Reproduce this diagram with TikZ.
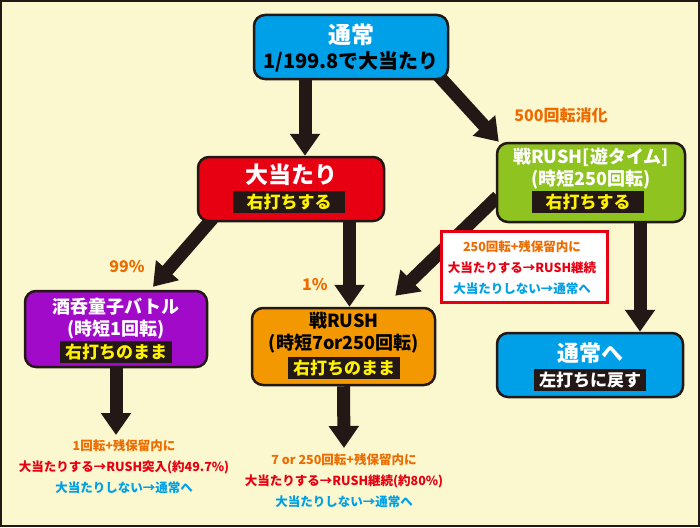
\documentclass[tikz,border=0pt]{standalone}
\usepackage{fontspec}
\setmainfont{Noto Sans CJK JP}
\usetikzlibrary{arrows.meta, positioning, calc}
\usepackage{xcolor}
\definecolor{paper}{RGB}{251,247,206}
\definecolor{ink}{RGB}{35,24,21}
\definecolor{skyblue}{RGB}{0,160,233}
\definecolor{hitred}{RGB}{230,0,18}
\definecolor{leafgreen}{RGB}{143,195,31}
\definecolor{grape}{RGB}{160,10,200}
\definecolor{amber}{RGB}{243,152,0}
\definecolor{tangerine}{RGB}{237,108,0}
\definecolor{tagyellow}{RGB}{255,241,0}
\pgfdeclarelayer{back}
\pgfsetlayers{back,main}

\begin{document}
\begin{tikzpicture}[x=1pt, y=-1pt,
  stage/.style={draw=ink, line width=2.5pt, rounded corners=11pt, inner sep=0pt},
  flow/.style={draw=ink, line width=13pt, -{Triangle[width=29pt,length=22pt]}},
  headline/.style={font=\fontsize{23}{26}\selectfont\bfseries, text=white},
  subline/.style={font=\fontsize{18}{22}\selectfont\bfseries, align=center},
  tagline/.style={fill=ink, font=\fontsize{17}{20}\selectfont\bfseries, text=tagyellow,
    inner sep=0pt, minimum width=112pt, minimum height=22pt},
  rate/.style={font=\fontsize{16}{18}\selectfont\bfseries, text=tangerine},
  outcome/.style={font=\fontsize{12.5}{21}\selectfont\bfseries, align=center}]
  \begin{pgfonlayer}{back}
    \fill[paper] (0,0) rectangle (700,527);
    \draw[ink, line width=2pt] (1,1) rectangle (699,526);
  \end{pgfonlayer}

  % boxes
  \node[stage, fill=skyblue, minimum width=194pt, minimum height=64pt] (tsujo) at (351,47) {};
  \node[stage, fill=hitred, minimum width=186pt, minimum height=64pt] (atari) at (291,189) {};
  \node[stage, fill=leafgreen, minimum width=188pt, minimum height=79pt] (yutime) at (591,182.5) {};
  \node[stage, fill=grape, minimum width=182pt, minimum height=76pt] (shuten) at (116,329) {};
  \node[stage, fill=amber, minimum width=183pt, minimum height=77pt] (rush) at (343.5,346.5) {};
  \node[stage, fill=skyblue, minimum width=186pt, minimum height=64pt] (tsujohe) at (590,365) {};
  \node[draw=hitred, fill=white, line width=3pt, minimum width=166pt, minimum height=71pt] (note) at (524,266.5) {};

  % texts in the boxes
  \node[headline] (tsujoT) at (351,35) {通常};
  \node[subline, font=\fontsize{20}{22}\selectfont\bfseries] (tsujoS) at (351,62) {1/199.8で大当たり};
  \node[headline] (atariT) at (291,175) {大当たり};
  \node[tagline] (atariG) at (289,202) {右打ちする};
  \node[subline, text=white] (yutimeT) at (591,169) {戦RUSH[遊タイム]\\(時短250回転)};
  \node[tagline] (yutimeG) at (588,202) {右打ちする};
  \node[subline, text=white] (shutenT) at (116,319) {酒呑童子バトル\\(時短1回転)};
  \node[tagline] (shutenG) at (116,352) {右打ちのまま};
  \node[subline] (rushT) at (344,332.5) {戦RUSH\\(時短7or250回転)};
  \node[tagline] (rushG) at (344,368) {右打ちのまま};
  \node[headline, font=\fontsize{22}{26}\selectfont\bfseries] (tsujoheT) at (590,353) {通常へ};
  \node[tagline, text=white] (tsujoheG) at (590,380) {左打ちに戻す};
  \node[outcome] (noteT) at (522,268) {{\color{tangerine}250回転+残保留内に}\\
    {\color{hitred}大当たりする→RUSH継続}\\{\color{skyblue}大当たりしない→通常へ}};

  % results below
  \node[outcome] (res1) at (124,467) {{\color{tangerine}1回転+残保留内に}\\
    {\color{hitred}大当たりする→RUSH突入(約49.7\%)}\\{\color{skyblue}大当たりしない→通常へ}};
  \node[outcome] (res2) at (344,481) {{\color{tangerine}7 or 250回転+残保留内に}\\
    {\color{hitred}大当たりする→RUSH継続(約80\%)}\\{\color{skyblue}大当たりしない→通常へ}};

  % rates
  \node[rate] (shoka) at (561,115) {500回転消化};
  \node[rate] (p99) at (127,267) {99\%};
  \node[rate] (p1) at (315,285) {1\%};

  \coordinate (shutenEnd) at (116,435);
  \coordinate (rushEnd) at (344,448);

  % arrows
  \begin{pgfonlayer}{back}
    \draw[flow] ([xshift=14pt]atari.north |- tsujo.south) -- ([xshift=14pt]atari.north);
    \draw[flow] ($(tsujo.south east)+(-12,-6)$) -- ($(yutime.north west)+(3,0)$);
    \draw[flow] ($(atari.south west)+(16,-4)$) -- ($(shuten.north)+(37,-3)$);
    \draw[flow] ([xshift=6pt]rush.north |- atari.south) -- ([xshift=6pt]rush.north);
    \draw[flow] ($(yutime.west)+(2,14)$) -- ($(rush.north east)+(-41,-11)$);
    \draw[flow] ([xshift=50pt]tsujohe.north |- yutime.south) -- ([xshift=50pt]tsujohe.north);
    \draw[flow] (shuten.south) -- (shutenEnd);
    \draw[flow] (rush.south) -- (rushEnd);
  \end{pgfonlayer}
\end{tikzpicture}
\end{document}
